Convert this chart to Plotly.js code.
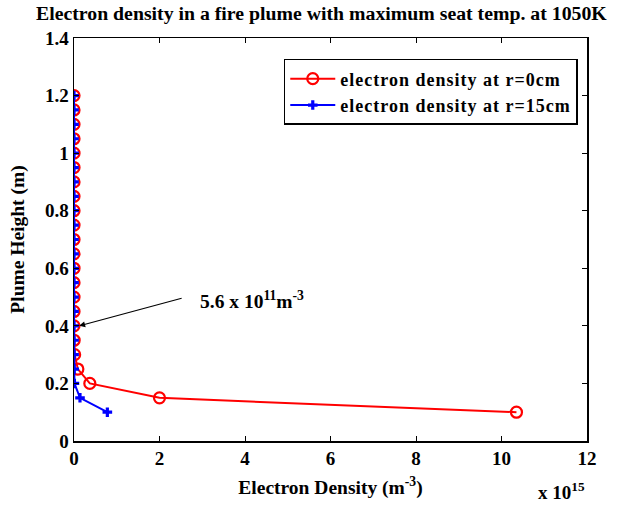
<!DOCTYPE html>
<html><head><meta charset="utf-8">
<script src="https://cdn.plot.ly/plotly-3.0.1.min.js"></script>
<style>body{margin:0;background:#fff} .legendtext{letter-spacing:1px}</style>
</head><body><div id="chart" style="width:624px;height:505px"></div>
<script>
const heights = [0.10,0.15,0.20,0.25,0.30,0.35,0.40,0.45,0.50,0.55,0.60,0.65,0.70,0.75,0.80,0.85,0.90,0.95,1.00,1.05,1.10,1.15,1.20];
const densityR0 = [10.35,2.0,0.37,0.09,0.015,0.004,0.00056,0.0005,0.0005,0.0005,0.0005,0.0005,0.0005,0.0005,0.0005,0.0005,0.0005,0.0005,0.0005,0.0005,0.0005,0.0005,0.0005];
const densityR15 = [0.78,0.14,0.01,0.005,0.002,0.001,0.0005,0.0005,0.0005,0.0005,0.0005,0.0005,0.0005,0.0005,0.0005,0.0005,0.0005,0.0005,0.0005,0.0005,0.0005,0.0005,0.0005];
const xTicks = [0,2,4,6,8,10,12];
const yTicks = [0,0.2,0.4,0.6,0.8,1,1.2,1.4];
const FONT = 'Liberation Serif, Times New Roman, serif';
const B = (s) => ({family:FONT, size:s, weight:'bold', color:'#000'});

const traces = [
  {x: densityR0, y: heights, mode:'lines+markers', name:'electron density at r=0cm',
   line:{color:'#ff0000', width:2}, marker:{symbol:'circle-open', size:11, color:'#ff0000', line:{width:2.2, color:'#ff0000'}}},
  {x: densityR15, y: heights, mode:'lines+markers', name:'electron density at r=15cm',
   line:{color:'#0000ff', width:2}, marker:{symbol:'cross', size:8, color:'#0000ff', line:{width:0}}}
];
const axisCommon = {showline:true, linecolor:'#000', linewidth:1.5, mirror:'ticks', ticks:'inside', ticklen:5, tickcolor:'#000',
  showgrid:false, zeroline:false, tickfont:B(19)};
const layout = {
  width:624, height:505, margin:{l:74, r:37, t:38, b:64},
  paper_bgcolor:'#fff', plot_bgcolor:'#fff',
  font:{family:FONT, color:'#000'},
  title:{text:'Electron density in a fire plume with maximum seat temp. at 1050K', x:0.515, xanchor:'center', y:0.987, yanchor:'top',
    font:B(19.8)},
  xaxis: Object.assign({}, axisCommon, {range:[0,12], tickvals:xTicks, ticktext:xTicks.map(String),
    title:{text:'Electron Density (m<sup>-3</sup>)', standoff:12, font:B(19.5)}}),
  yaxis: Object.assign({}, axisCommon, {range:[0,1.4], tickvals:yTicks, ticktext:yTicks.map(String),
    title:{text:'Plume Height (m)', standoff:15, font:B(19.5)}}),
  showlegend:true,
  legend:{x:0.982, xanchor:'right', y:0.948, yanchor:'top', bordercolor:'#000', borderwidth:1.5, bgcolor:'#fff',
    font:B(18), tracegroupgap:0, itemwidth:45},
  annotations:[
    {x:0.12, y:0.4, xref:'x', yref:'y', ax:104, ay:-28, showarrow:true, arrowhead:2, arrowsize:1, arrowwidth:1.2, arrowcolor:'#000', text:''},
    {x:(198-74)/513, y:(441-300)/403, xref:'paper', yref:'paper', text:'5.6 x 10<sup>11</sup>m<sup>-3</sup>', showarrow:false,
      font:B(19.5), xanchor:'left', yanchor:'middle'},
    {x:1.0, y:0, xref:'paper', yref:'paper', yshift:-50, text:'x 10<sup>15</sup>', showarrow:false,
      font:B(19), xanchor:'right', yanchor:'middle'}
  ]
};
Plotly.newPlot('chart', traces, layout, {displayModeBar:false, staticPlot:true});
</script></body></html>
